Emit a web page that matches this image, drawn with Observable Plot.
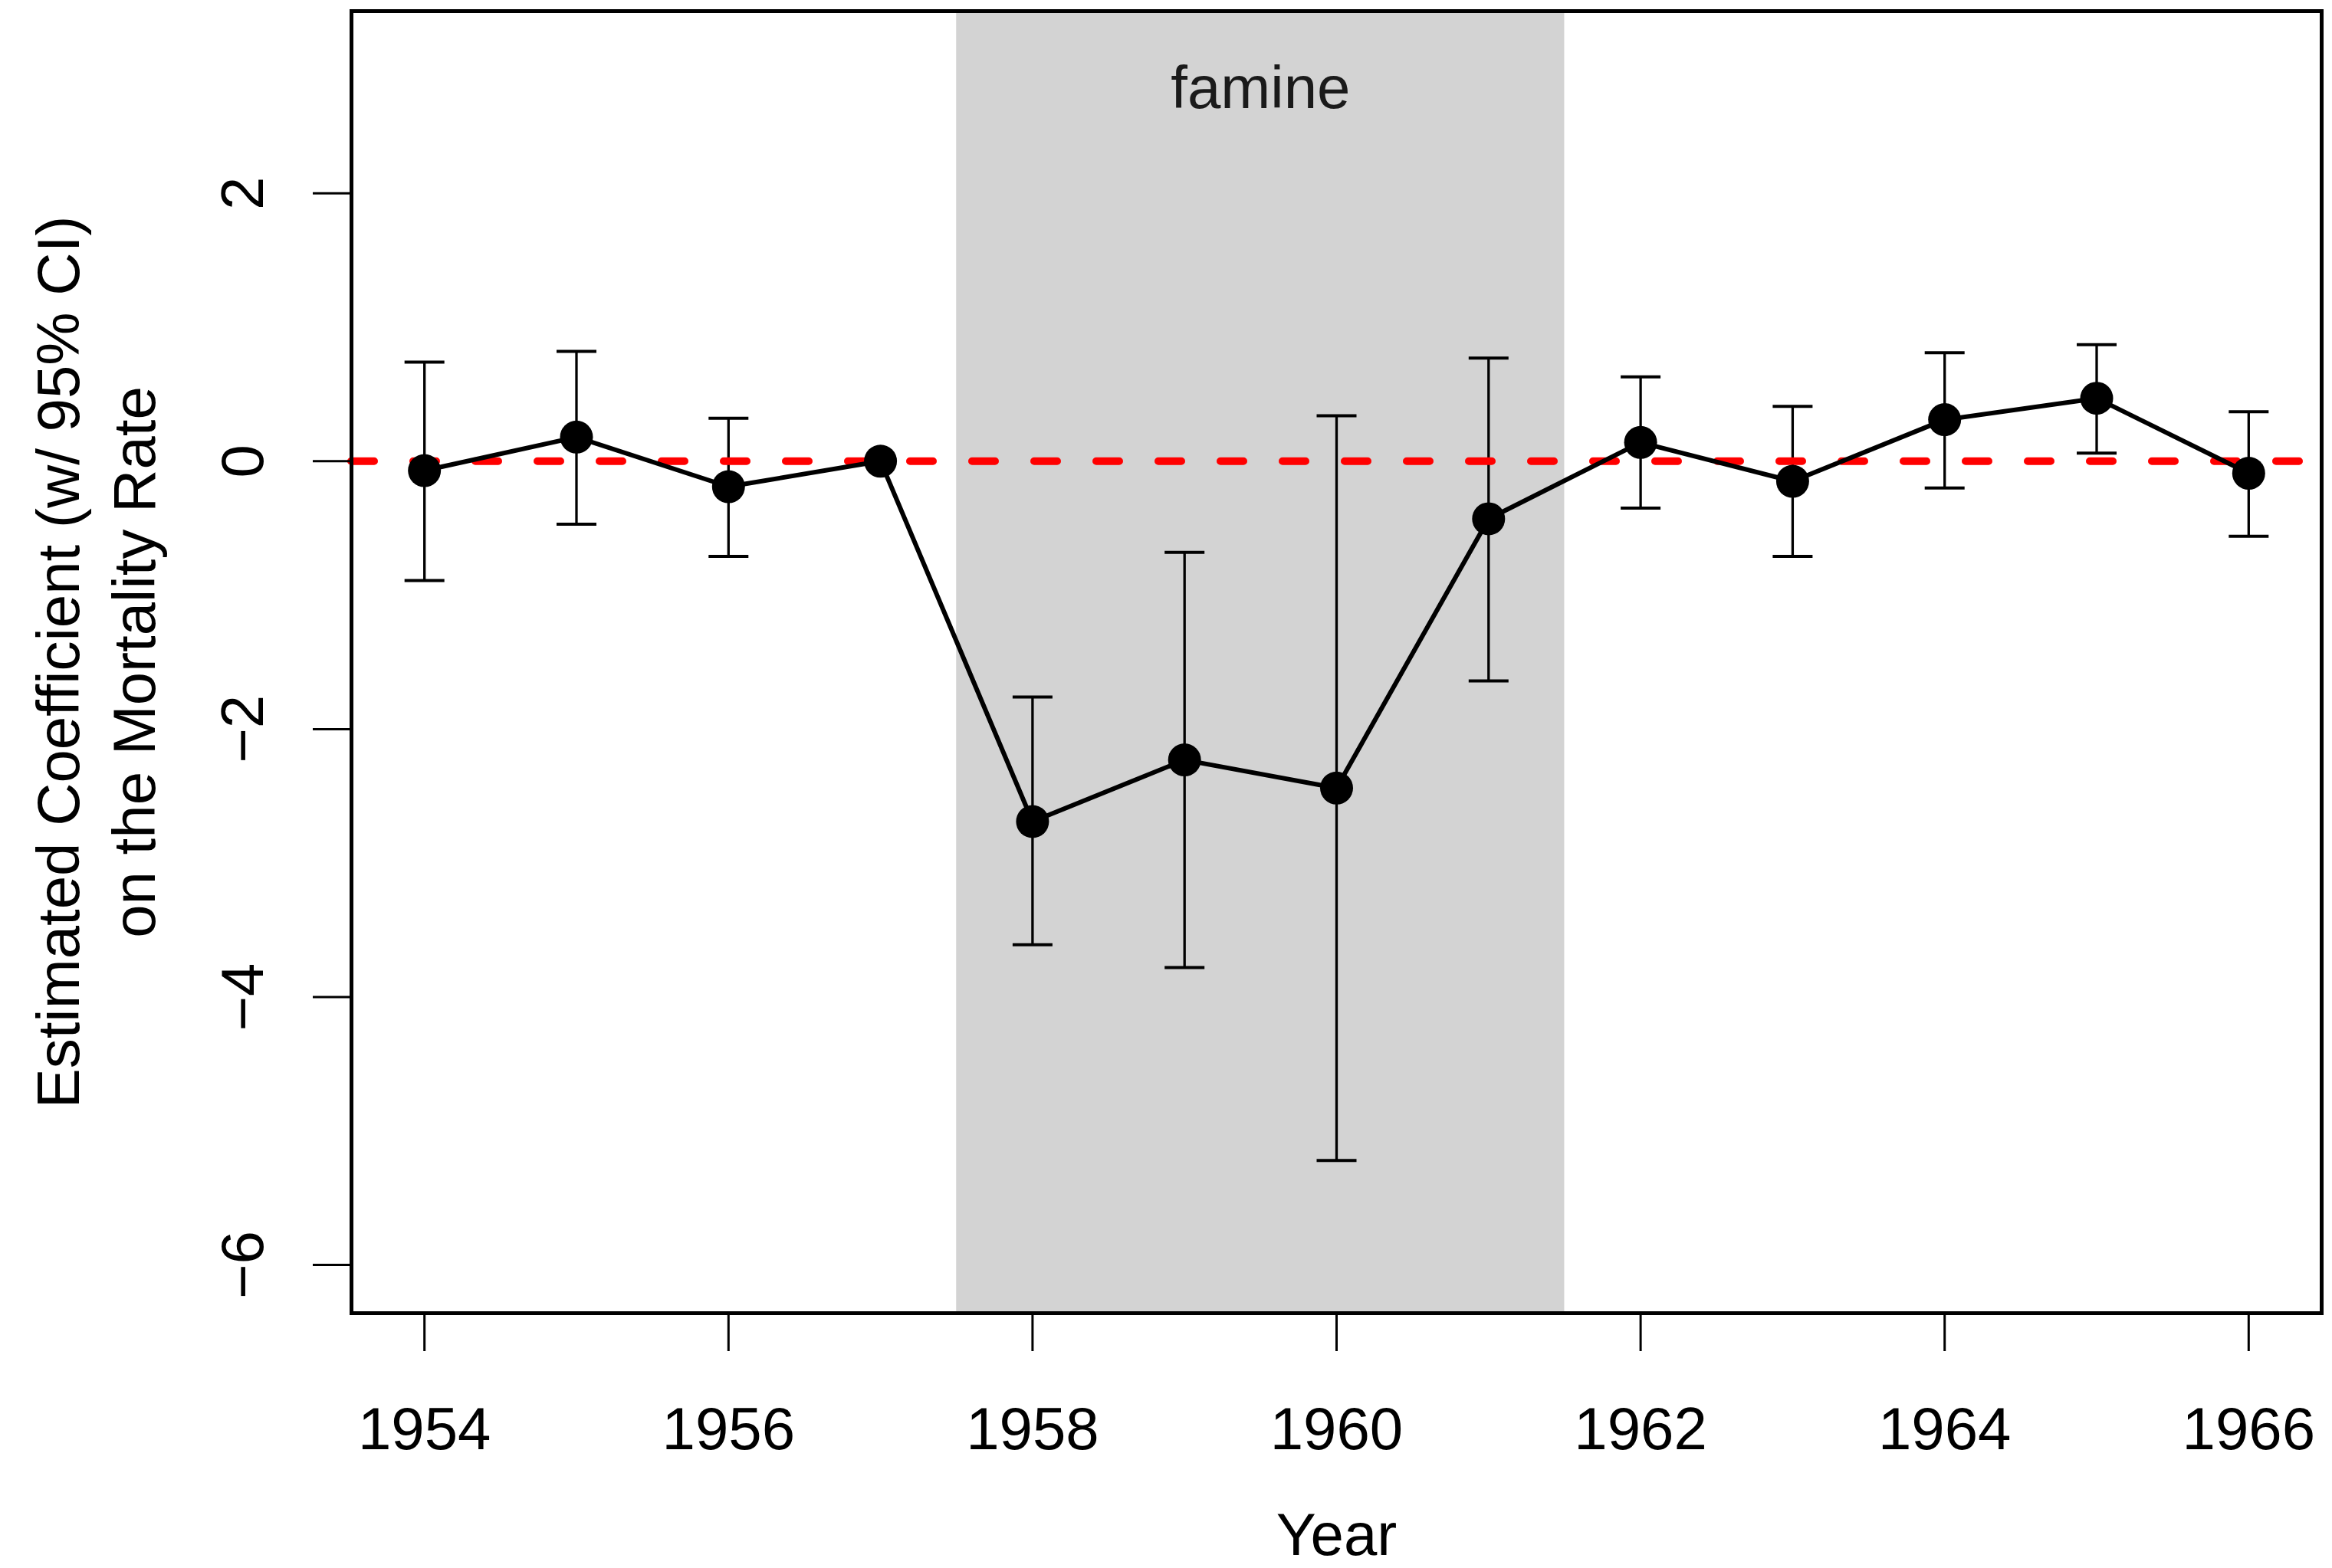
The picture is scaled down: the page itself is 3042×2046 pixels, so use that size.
<!DOCTYPE html>
<html>
<head>
<meta charset="utf-8">
<script src="https://cdn.jsdelivr.net/npm/d3@7"></script>
<script src="https://cdn.jsdelivr.net/npm/@observablehq/plot@0.6"></script>
<style>
  html, body { margin: 0; padding: 0; background: white; }
  svg { display: block; }
</style>
</head>
<body>
<div id="chart"></div>
<script>
// ---- data ----
const years = [1954, 1955, 1956, 1957, 1958, 1959, 1960, 1961, 1962, 1963, 1964, 1965, 1966];
const coef  = [-0.07, 0.18, -0.19, 0.0, -2.69, -2.23, -2.44, -0.43, 0.14, -0.15, 0.31, 0.47, -0.09];
const lower = [-0.89, -0.47, -0.71, null, -3.61, -3.78, -5.22, -1.64, -0.35, -0.71, -0.20, 0.06, -0.56];
const upper = [0.74, 0.82, 0.32, null, -1.76, -0.68, 0.34, 0.77, 0.63, 0.41, 0.81, 0.87, 0.37];
const famineStart = [1957.5];
const famineEnd = [1961.5];
const famineLabel = ["famine"];
const famineLabelPos = { x: 1959.5, y: 2.78 };
const xTicks = [1954, 1956, 1958, 1960, 1962, 1964, 1966];
const yTicks = [-6, -4, -2, 0, 2];
const xDomain = [1953.52, 1966.48];
const yDomain = [-6.36, 3.36];
const xTitle = "Year";
const yTitle = "Estimated Coefficient (w/ 95% CI)\non the Mortality Rate";

const data = years.map((y, i) => ({ year: y, coef: coef[i], lo: lower[i], hi: upper[i] }));
const ci = data.filter(d => d.lo != null);
const famine = famineStart.map((s, i) => ({ x1: s, x2: famineEnd[i] }));

// horizontal cap symbol for error bars
const capSymbol = {
  draw(context, size) {
    const w = 26;
    context.moveTo(-w, 0);
    context.lineTo(w, 0);
  }
};

const W = 3042, H = 2046;
const FS = 78;

const chart = Plot.plot({
  width: W,
  height: H,
  marginLeft: 458,
  marginRight: 14,
  marginTop: 14,
  marginBottom: 333,
  style: { fontFamily: "'Liberation Sans', Arial, Helvetica, sans-serif", fontSize: FS + "px", background: "white", color: "black" },
  x: { domain: xDomain },
  y: { domain: yDomain },
  marks: [
    Plot.rect(famine, { x1: "x1", x2: "x2", fill: "#d3d3d3" }),
    Plot.text(famineLabel, { x: () => famineLabelPos.x, y: () => famineLabelPos.y, text: d => d, fontSize: FS, fill: "#1a1a1a", textAnchor: "middle", lineAnchor: "middle" }),
    Plot.ruleX(ci, { x: "year", y1: "lo", y2: "hi", stroke: "black", strokeWidth: 3.3 }),
    Plot.dot(ci, { x: "year", y: "hi", symbol: capSymbol, stroke: "black", strokeWidth: 4 }),
    Plot.dot(ci, { x: "year", y: "lo", symbol: capSymbol, stroke: "black", strokeWidth: 4 }),
    Plot.ruleY([0], { stroke: "#ff0000", strokeWidth: 10, strokeDasharray: "30,51", strokeLinecap: "round" }),
    Plot.line(data, { x: "year", y: "coef", stroke: "black", strokeWidth: 6 }),
    Plot.dot(data, { x: "year", y: "coef", r: 21.5, fill: "black", stroke: "none" }),
    Plot.axisX({ ticks: xTicks, tickFormat: d => String(d), tickSize: 50, tickPadding: 72, strokeWidth: 3, fontSize: FS, label: null }),
    Plot.axisY({ ticks: yTicks, tickSize: 50, tickPadding: 66, tickRotate: -90, textAnchor: "middle", lineAnchor: "bottom", strokeWidth: 3, fontSize: FS, label: null }),
    Plot.text([xTitle], { frameAnchor: "bottom", dy: 315, text: d => d, fontSize: FS, lineAnchor: "bottom", textAnchor: "middle" }),
    Plot.text([yTitle], { frameAnchor: "left", dx: -338, rotate: -90, text: d => d, fontSize: FS, lineHeight: 1.27, lineAnchor: "middle", textAnchor: "middle" }),
    Plot.frame({ stroke: "black", strokeWidth: 5 })
  ]
});

document.getElementById("chart").appendChild(chart);
</script>
</body>
</html>
